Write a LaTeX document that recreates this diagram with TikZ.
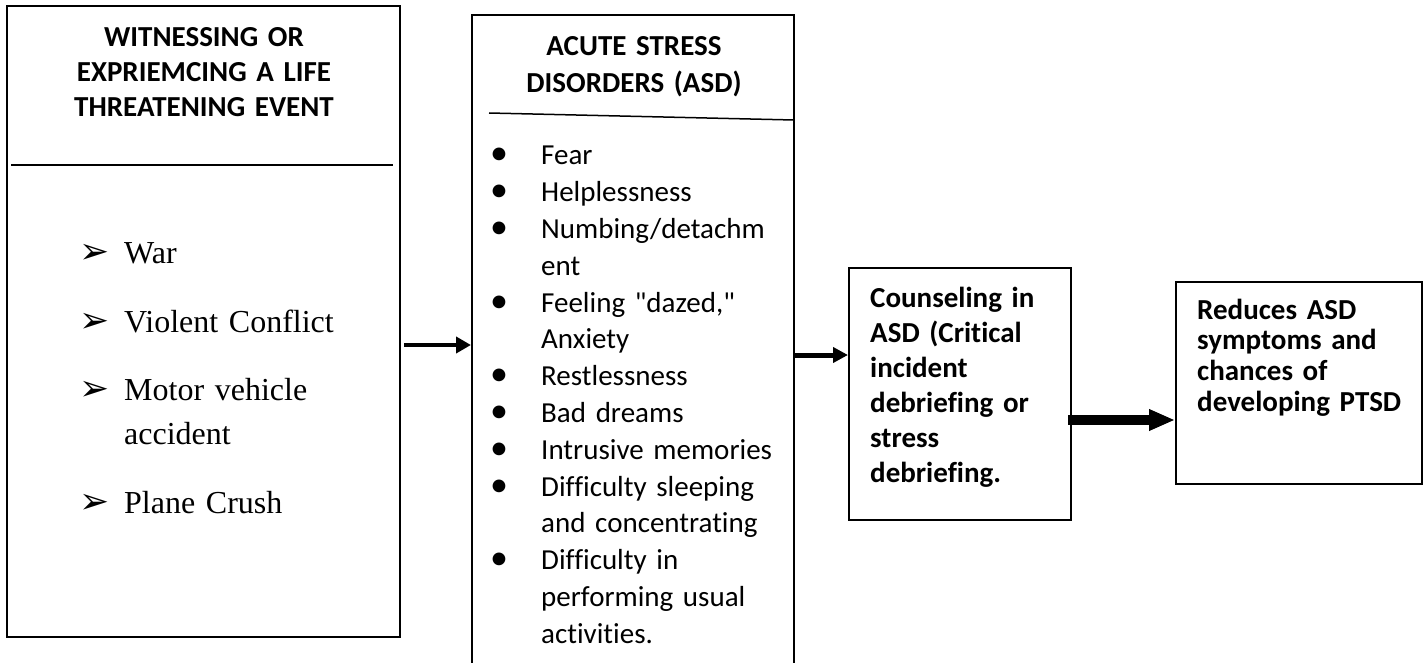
\documentclass[tikz,border=0pt]{standalone}
\usepackage{fontspec}
\setmainfont{Carlito}[Ligatures=NoCommon]
\newfontfamily\timesfont{Liberation Serif}[Ligatures=NoCommon]
\newfontfamily\dingfont{DejaVu Sans}
\usepackage{tikz}
\usetikzlibrary{arrows.meta,calc,positioning}
\newcommand{\marca}{\makebox[45pt][l]{\dingfont\fontsize{36}{36}\selectfont ➢}}
\newcommand{\ponto}{\makebox[51pt][l]{\fontsize{36}{36}\selectfont\textbullet}}
\tikzset{%
  bloco/.style={draw=black,line width=2pt,inner sep=0pt},
  divisoria/.style={draw=black,line width=1.5pt},
  titulo/.style={font=\bfseries\fontsize{29}{35}\selectfont,align=center,inner sep=0pt,text width=#1},
  lista/.style={font=\fontsize{29}{36.8}\selectfont,align=left,inner sep=0pt,text width=320pt},
  lista serif/.style={font=\timesfont\fontsize{32}{43}\selectfont,align=left,inner sep=0pt,text width=310pt},
  texto/.style={font=\bfseries\fontsize{29}{#1}\selectfont,align=left,inner sep=0pt,text width=230pt},
  conecta/.style={draw=black,line width=#1},
  seta/.style n args={2}{arrows=-{Triangle[width=#1,length=#2]}}
}
\begin{document}
\begin{tikzpicture}[x=1pt,y=-1pt]
  \useasboundingbox (0,0) rectangle (1427,663);
  \clip (0,0) rectangle (1427,663);
  % caixas
  \node[bloco,line width=2.5pt,minimum width=393pt,minimum height=631pt] (witness) at (203.5,321.5) {};
  \node[bloco,minimum width=322pt,minimum height=685pt] (asd) at (633,357.5) {};
  \node[bloco,minimum width=222pt,minimum height=252pt] (counsel) at (960,394) {};
  \node[bloco,minimum width=246pt,minimum height=202pt] (reduce) at (1299,383) {};
  \draw[divisoria] (11,165) -- (393,165);
  \draw[divisoria] (489,113) -- (794,120);
  % textos
  \node[titulo=380pt,anchor=base] (witness-titulo) at (204,47)
    {WITNESSING OR\\EXPRIEMCING A LIFE\\THREATENING EVENT};
  \node[lista serif,anchor=base west] (witness-lista) at (79,263)
    {\marca War\\[26pt]\marca Violent Conflict\\[26pt]\marca Motor vehicle\\
     \hspace*{45pt}accident\\[26pt]\marca Plane Crush};
  \node[titulo=300pt,font=\bfseries\fontsize{29}{37}\selectfont,anchor=base] (asd-titulo) at (634,56)
    {ACUTE STRESS\\DISORDERS (ASD)};
  \node[lista,anchor=base west] (asd-lista) at (490,165)
    {\ponto Fear\\\ponto Helplessness\\\ponto Numbing/detachm\\\hspace*{51pt}ent\\
     \ponto Feeling \textquotedbl dazed,\textquotedbl\\\hspace*{51pt}Anxiety\\\ponto Restlessness\\
     \ponto Bad dreams\\\ponto Intrusive memories\\\ponto Difficulty sleeping\\
     \hspace*{51pt}and concentrating\\\ponto Difficulty in\\
     \hspace*{51pt}performing usual\\\hspace*{51pt}activities.};
  \node[texto=35,anchor=base west] (counsel-texto) at (870,307)
    {Counseling in\\ASD (Critical\\incident\\debriefing or\\stress\\debriefing.};
  \node[texto=30.7,anchor=base west] (reduce-texto) at (1197,319)
    {Reduces ASD\\symptoms and\\chances of\\developing PTSD};
  % setas
  \draw[conecta=4pt,seta={16pt}{15pt},shorten <=3pt] ([yshift=-23.5pt]witness.east) -- ([yshift=-23.5pt]witness.east -| asd.west);
  \draw[conecta=5pt,seta={15pt}{15pt}] ([yshift=2.5pt]asd.east) -- ([yshift=2.5pt]asd.east -| counsel.west);
  \draw[conecta=10pt,seta={20pt}{26pt},shorten <=-4pt] ([yshift=-26pt]counsel.east) -- ([yshift=-26pt]counsel.east -| reduce.west);
\end{tikzpicture}
\end{document}
